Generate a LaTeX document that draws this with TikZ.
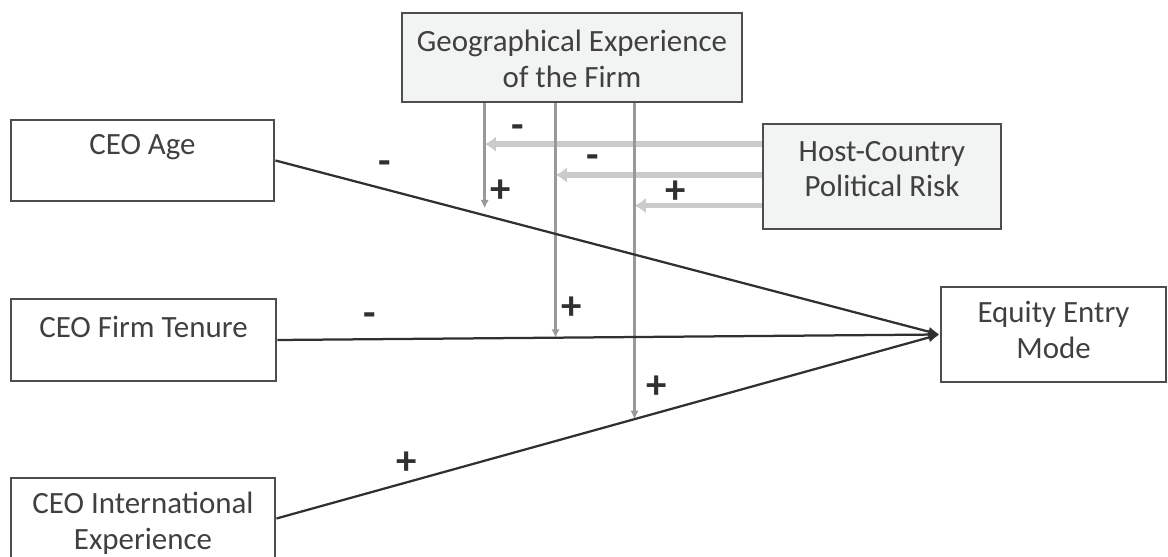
\documentclass[tikz,border=0pt]{standalone}
\usepackage{fontspec}
\setmainfont{Carlito}
\usetikzlibrary{calc,arrows.meta}

\definecolor{boxline}{HTML}{4D4D4D}
\definecolor{boxfill}{HTML}{F2F3F3}
\definecolor{txt}{HTML}{404040}
\definecolor{mainline}{HTML}{303030}
\definecolor{modline}{HTML}{999999}
\definecolor{riskline}{HTML}{CBCBCB}

\tikzset{
  var/.style={draw=boxline, line width=2pt, inner sep=0pt},
  shaded/.style={var, fill=boxfill},
  lbl/.style={text=txt, align=center, font=\fontsize{22}{25.5}\selectfont, inner sep=0pt},
  sign/.style={text=mainline, font=\fontsize{29}{29}\selectfont\bfseries, inner sep=0pt},
  main/.style={draw=mainline, line width=1.6pt, -{Latex[length=8pt,width=7pt]}},
  mod/.style={draw=modline, line width=2pt, -{Latex[length=6pt,width=6pt]}},
  risk/.style={draw=riskline, line width=3.8pt, -{Latex[length=8pt,width=11pt]}}
}

\begin{document}
\begin{tikzpicture}[x=0.025cm, y=-0.025cm]
		\useasboundingbox (0,0) rectangle (1168,557);

		% boxes
		\node[var, minimum width=6.575cm, minimum height=2.025cm] (age) at (142.5,160.5) {};
		\node[var, minimum width=6.625cm, minimum height=2.05cm] (tenure) at (143.5,340) {};
		\node[var, minimum width=6.6cm, minimum height=2.025cm] (intl) at (143,518.5) {};
		\node[shaded, minimum width=8.5cm, minimum height=2.225cm] (geo) at (572,57.5) {};
		\node[shaded, minimum width=5.95cm, minimum height=2.625cm] (host) at (882,176.5) {};
		\node[var, minimum width=5.625cm, minimum height=2.375cm] (equity) at (1053.5,334.5) {};

		\node[lbl] (agetext) at ($(age.north)+(0,29)$) {CEO Age};
		\node[lbl] (tenuretext) at ($(tenure.north)+(0,29)$) {CEO Firm Tenure};
		\node[lbl] (intltext) at ($(intl.north)+(0,46.5)$) {CEO International\\Experience};
		\node[lbl] (geotext) at ($(geo.north)+(0,47.5)$) {Geographical Experience\\of the Firm};
		\node[lbl] (hosttext) at ($(host.north)+(0,46.5)$) {Host-Country\\Political Risk};
		\node[lbl] (equitytext) at ($(equity.north)+(0,44.5)$) {Equity Entry\\Mode};

		% direct effects
		\path (age.east) -- coordinate[pos=0.315] (m1) (equity.west);
		\path (tenure.east) -- coordinate[pos=0.42] (m2) (equity.west);
		\path (intl.east) -- coordinate[pos=0.54] (m3) (equity.west);

		% political risk on the moderators
		\coordinate (r1) at ($(host.north west)!0.2!(host.south west)$);
		\coordinate (r2) at ($(host.north west)!0.486!(host.south west)$);
		\coordinate (r3) at ($(host.north west)!0.77!(host.south west)$);
		\draw[risk] (r1) -- (r1 -| m1);
		\draw[risk] (r2) -- (r2 -| m2);
		\draw[risk] (r3) -- (r3 -| m3);

		% firm experience on the paths
		\draw[mod, shorten >=5pt] (geo.south -| m1) -- (m1);
		\draw[mod] (geo.south -| m2) -- (m2);
		\draw[mod] (geo.south -| m3) -- (m3);

		\draw[main] (age.east) -- (equity.west);
		\draw[main] (tenure.east) -- (equity.west);
		\draw[main] (intl.east) -- (equity.west);

		% signs
		\node[sign] (sage) at (385,168) {-};
		\node[sign] (stenure) at (370,320) {-};
		\node[sign] (sintl) at (407,463) {+};
		\node[sign] (sr1) at (518,132) {-};
		\node[sign] (sg1) at (501,191) {+};
		\node[sign] (sr2) at (593,162) {-};
		\node[sign] (sg2) at (572,308) {+};
		\node[sign] (sr3) at (676,192) {+};
		\node[sign] (sg3) at (657,387) {+};
\end{tikzpicture}
\end{document}
